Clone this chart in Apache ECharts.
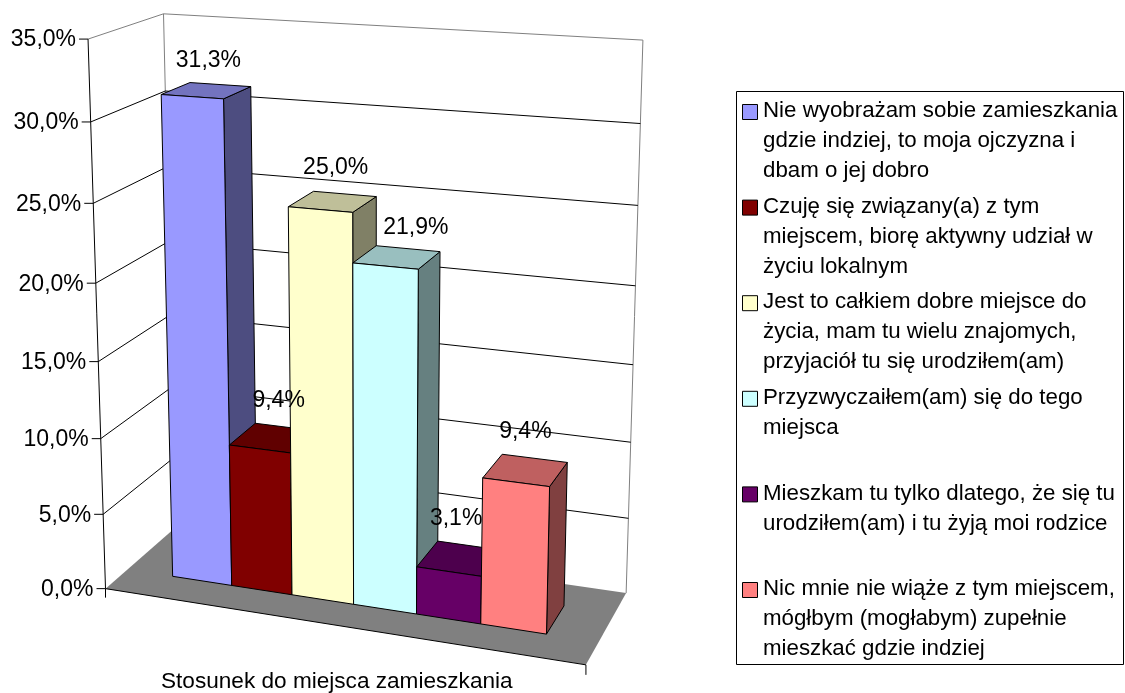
<!DOCTYPE html>
<html><head><meta charset="utf-8">
<style>html,body{margin:0;padding:0;background:#fff}#c{width:1125px;height:693px}</style>
<script src="https://cdn.jsdelivr.net/npm/echarts@6/dist/echarts.min.js"></script>
</head><body><div id="c"></div>
<script>
const categories = [
 "Nie wyobrażam sobie zamieszkania\ngdzie indziej, to moja ojczyzna i\ndbam o jej dobro",
 "Czuję się związany(a) z tym\nmiejscem, biorę aktywny udział w\nżyciu lokalnym",
 "Jest to całkiem dobre miejsce do\nżycia, mam tu wielu znajomych,\nprzyjaciół tu się urodziłem(am)",
 "Przyzwyczaiłem(am) się do tego\nmiejsca",
 "Mieszkam tu tylko dlatego, że się tu\nurodziłem(am) i tu żyją moi rodzice",
 "Nic mnie nie wiąże z tym miejscem,\nmógłbym (mogłabym) zupełnie\nmieszkać gdzie indziej"
];
const values = [31.3, 9.4, 25.0, 21.9, 3.1, 9.4];
const tickValues = [0, 5, 10, 15, 20, 25, 30, 35];
const tickLabels = ["0,0%", "5,0%", "10,0%", "15,0%", "20,0%", "25,0%", "30,0%", "35,0%"];
const axisTitle = "Stosunek do miejsca zamieszkania";
const frontColors = ["#9999FF", "#800000", "#FFFFCC", "#CCFFFF", "#660066", "#FF8080"];
const topColors   = ["#7373BF", "#600000", "#BFBF99", "#99BFBF", "#4D004D", "#BF6060"];
const sideColors  = ["#4D4D80", "#400000", "#808066", "#668080", "#330033", "#804040"];

// layout: pixel anchors that calibrate the perspective camera
const FONT = "Liberation Sans, Arial, sans-serif";
const camera = [
 [0,0,0,105,589.5],[0,0,1,88.5,39],[1,0,0,586,664],
 [0,1,0,176,526.5],[0,1,1,163,14],[1,1,0,626,594],[1,1,1,643,40]
];
function solveCamera(pts){
  const A=[],b=[];
  pts.forEach(([X,Y,Z,px,py])=>{
    const x=px/1000,y=py/1000;
    A.push([X,Y,Z,1,0,0,0,0,-x*X,-x*Y,-x*Z]);b.push(x);
    A.push([0,0,0,0,X,Y,Z,1,-y*X,-y*Y,-y*Z]);b.push(y);
  });
  const n=11,M=[];
  for(let i=0;i<n;i++){M.push([]);for(let j=0;j<=n;j++){let s=0;
    for(let k=0;k<A.length;k++)s+=A[k][i]*(j<n?A[k][j]:b[k]);M[i].push(s);}}
  for(let i=0;i<n;i++){let p=i;for(let r=i+1;r<n;r++)if(Math.abs(M[r][i])>Math.abs(M[p][i]))p=r;
    [M[i],M[p]]=[M[p],M[i]];
    for(let r=0;r<n;r++){if(r===i)continue;const f=M[r][i]/M[i][i];for(let c=i;c<=n;c++)M[r][c]-=f*M[i][c];}}
  return M.map((row,i)=>row[n]/row[i]);
}
const P=solveCamera(camera);
function proj(X,Y,Z){
  const d=P[8]*X+P[9]*Y+P[10]*Z+1;
  return [1000*(P[0]*X+P[1]*Y+P[2]*Z+P[3])/d,1000*(P[4]*X+P[5]*Y+P[6]*Z+P[7])/d];
}
const GW=700,GH=600;           // hidden grid that carries the scales
const depthFront=0.3,depthBack=0.7,inset=0.103;
const labelOffsets=[[2,-30],[6,-37],[3,-34],[19,-30],[-3,-40],[0,-38]];
const GRAY="#808080";
const poly=(pts,fill,stroke,lw)=>({type:'polygon',shape:{points:pts},style:{fill:fill,stroke:stroke||null,lineWidth:lw||1}});
const line=(a,b,stroke,lw)=>({type:'line',shape:{x1:a[0],y1:a[1],x2:b[0],y2:b[1]},style:{stroke:stroke,lineWidth:lw||1,fill:null}});
const heightOf=(api,v)=>1-api.coord([0,v])[1]/GH;

const series=[
 {type:'custom',name:'walls',silent:true,animation:false,clip:false,data:[[0,0]],encode:{x:0,y:1},
  renderItem(params,api){return {type:'group',children:[
    poly([proj(0,0,0),proj(0,0,1),proj(0,1,1),proj(0,1,0)],'#fff'),
    poly([proj(0,1,0),proj(0,1,1),proj(1,1,1),proj(1,1,0)],'#fff'),
    poly([proj(0,0,0),proj(1,0,0),proj(1,1,0),proj(0,1,0)],GRAY),
    line(proj(0,0,1),proj(0,1,1),GRAY),line(proj(0,1,1),proj(1,1,1),GRAY),
    line(proj(0,1,1),proj(0,1,0),GRAY),line(proj(1,1,1),proj(1,1,0),GRAY),
    line(proj(0,0,0),proj(1,0,0),'#000'),
    line(proj(0,0,0),[proj(0,0,0)[0],proj(0,0,0)[1]+9],'#000'),
    line(proj(1,0,0),[proj(1,0,0)[0],proj(1,0,0)[1]+10],'#000'),
    line(proj(0,0,0),proj(0,0,1),'#000')
  ]};}},
 {type:'custom',name:'axis',silent:true,animation:false,clip:false,
  data:tickValues.map((t,i)=>[0,t,i]),encode:{x:0,y:1},
  renderItem(params,api){
    const z=heightOf(api,api.value(1)),a=proj(0,0,z),i=api.value(2),kids=[];
    kids.push(line([a[0]-9,a[1]],a,'#000'));
    if(i>0&&i<7){kids.push(line(a,proj(0,1,z),'#000'),line(proj(0,1,z),proj(1,1,z),'#000'));}
    kids.push({type:'text',style:{text:tickLabels[i],x:a[0]-12,y:a[1]+1,align:'right',verticalAlign:'middle',font:'23px '+FONT,fill:'#000'}});
    return {type:'group',children:kids};
  }},
 {type:'custom',name:'bars',silent:true,animation:false,clip:false,
  data:values.map((v,i)=>[i,v]),encode:{x:0,y:1},
  renderItem(params,api){
    const i=api.value(0),c=api.coord([i,api.value(1)]),hw=api.size([1,0])[0]/2;
    const u=px=>inset+(1-2*inset)*px/GW;
    const x0=u(c[0]-hw),x1=u(c[0]+hw),z=1-c[1]/GH,f=depthFront,b=depthBack;
    const K='#000';
    return {type:'group',children:[
      poly([proj(x1,f,0),proj(x1,b,0),proj(x1,b,z),proj(x1,f,z)],sideColors[i],K),
      poly([proj(x0,f,z),proj(x1,f,z),proj(x1,b,z),proj(x0,b,z)],topColors[i],K),
      poly([proj(x0,f,0),proj(x1,f,0),proj(x1,f,z),proj(x0,f,z)],frontColors[i],K)
    ]};
  }},
 {type:'custom',name:'labels',silent:true,animation:false,clip:false,
  data:values.map((v,i)=>[i,v]),encode:{x:0,y:1},
  renderItem(params,api){
    const i=api.value(0),v=api.value(1),c=api.coord([i,v]);
    const u=inset+(1-2*inset)*c[0]/GW,z=1-c[1]/GH,t=proj(u,0.5,z),o=labelOffsets[i];
    return {type:'text',style:{text:v.toFixed(1).replace('.',',')+'%',x:t[0]+o[0],y:t[1]+o[1],align:'center',verticalAlign:'middle',font:'23px '+FONT,fill:'#000'}};
  }}
];

// legend, drawn so each swatch aligns with the first line of its wrapped text
const legendKids=[{type:'rect',shape:{x:736.5,y:91.5,width:387,height:573},style:{fill:'#fff',stroke:'#000',lineWidth:1}}];
categories.forEach((name,i)=>{
  const top=96+95.6*i;
  legendKids.push({type:'rect',shape:{x:742.5,y:top+8.5,width:15,height:15},style:{fill:frontColors[i],stroke:'#000',lineWidth:1}});
  legendKids.push({type:'text',style:{text:name,x:763,y:top,font:'22.3px '+FONT,lineHeight:30,fill:'#000',align:'left',verticalAlign:'top'}});
});

const chart=echarts.init(document.getElementById('c'),null,{renderer:'canvas',width:1125,height:693});
chart.setOption({
  animation:false,backgroundColor:'#fff',
  title:{text:axisTitle,left:161,top:670,textStyle:{fontFamily:FONT,fontWeight:'normal',fontSize:22.6,color:'#000'},padding:0},
  grid:{left:0,top:0,width:GW,height:GH,show:false},
  xAxis:{type:'category',data:categories,show:false},
  yAxis:{type:'value',min:0,max:35,interval:5,show:false},
  series:series,
  graphic:{elements:[{type:'group',silent:true,z:10,children:legendKids}]}
});
</script></body></html>
